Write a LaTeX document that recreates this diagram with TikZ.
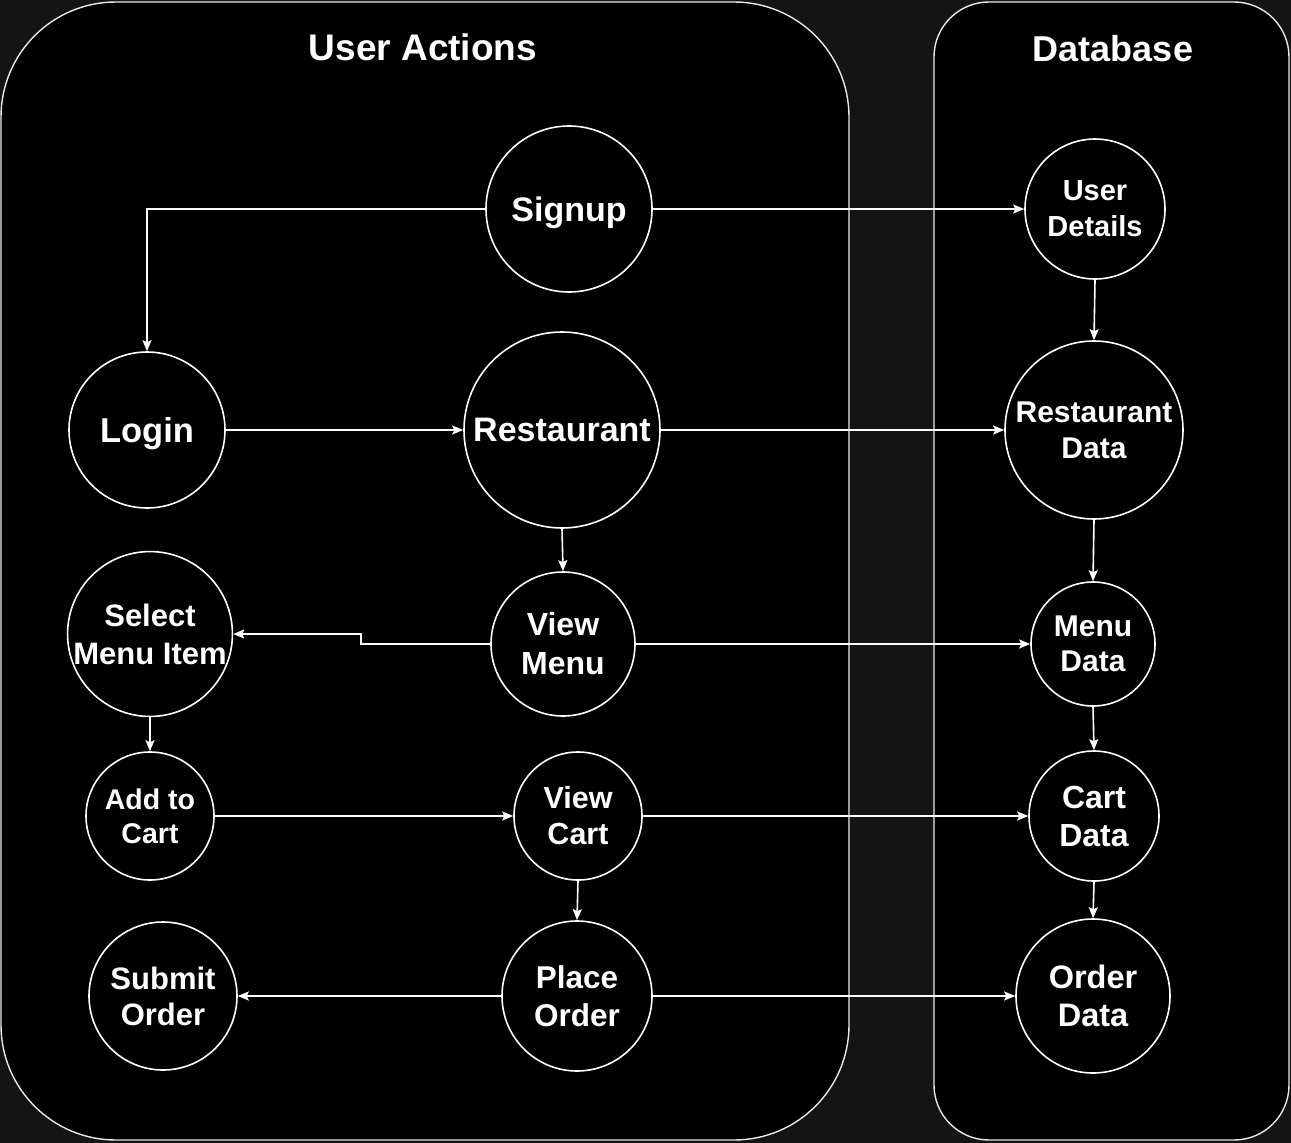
\documentclass[tikz,border=0pt]{standalone}
\usepackage{fontspec}
\setmainfont{Liberation Sans}
\usetikzlibrary{arrows.meta}
\definecolor{bgc}{HTML}{141414}
\definecolor{edgec}{HTML}{E8E8EE}
\newcommand{\fsz}[2]{\bfseries\fontsize{#1}{#2}\selectfont}
\tikzset{
  bub/.style={circle,draw=white,line width=1.6pt,fill=black,text=white,inner sep=0pt,align=center,minimum size=#1},
  arr/.style={draw=white,line width=1.6pt,-{Stealth[length=11pt,width=9pt,inset=2pt]}},
  pane/.style={draw=edgec,line width=1.4pt,fill=black},
  ttl/.style={text=white,font=\bfseries\fontsize{37}{44}\selectfont}
}
\begin{document}
\begin{tikzpicture}[x=1pt,y=-1pt]
\fill[bgc] (0,0) rectangle (1291,1143);
\useasboundingbox (0,0) rectangle (1291,1143);
\draw[pane,rounded corners=115pt] (1,2) rectangle (849,1140);
\draw[pane,rounded corners=55pt] (934,2) rectangle (1289,1140);
\node[ttl] (t1) at (423,47) {User Actions};
\node[ttl,font=\bfseries\fontsize{36}{44}\selectfont] (t2) at (1113,49) {Database};

\node[bub=166pt,font=\fsz{34}{40},text depth=0pt] (signup) at (569,209) {Signup};
\node[bub=140pt,font=\fsz{29}{36}] (userdet) at (1095,209) {User\\Details};
\node[bub=156pt,font=\fsz{34.5}{40},text depth=0pt] (login) at (147,430) {Login};
\node[bub=196pt,font=\fsz{34}{40}] (rest) at (562,430) {Restaurant};
\node[bub=178pt,font=\fsz{30}{36}] (restdata) at (1094,430) {Restaurant\\Data};
\node[bub=164pt,font=\fsz{31}{38}] (selmenu) at (150,634) {Select\\Menu Item};
\node[bub=144pt,font=\fsz{32}{39}] (viewmenu) at (563,644) {View\\Menu};
\node[bub=124pt,font=\fsz{30}{35}] (menudata) at (1093,644) {Menu\\Data};
\node[bub=128pt,font=\fsz{28.5}{34}] (addcart) at (150,816) {Add to\\Cart};
\node[bub=128pt,font=\fsz{30.5}{36}] (viewcart) at (578,816) {View\\Cart};
\node[bub=130pt,font=\fsz{32}{38}] (cartdata) at (1094,816) {Cart\\Data};
\node[bub=148pt,font=\fsz{31}{36}] (submit) at (163,996) {Submit\\Order};
\node[bub=150pt,font=\fsz{31.5}{38}] (placeorder) at (577,996) {Place\\Order};
\node[bub=154pt,font=\fsz{32.5}{38}] (orderdata) at (1093,996) {Order\\Data};

\draw[arr] (signup.west) -| (login.north);
\draw[arr] (signup.east) -- (userdet.west);
\draw[arr] (userdet.south) -- (restdata.north);
\draw[arr] (login.east) -- (rest.west);
\draw[arr] (rest.east) -- (restdata.west);
\draw[arr] (rest.south) -- (viewmenu.north);
\draw[arr] (restdata.south) -- (menudata.north);
\draw[arr] (viewmenu.west) -- ++(-129,0) |- (selmenu.east);
\draw[arr] (viewmenu.east) -- (menudata.west);
\draw[arr] (menudata.south) -- (cartdata.north);
\draw[arr] (selmenu.south) -- (addcart.north);
\draw[arr] (addcart.east) -- (viewcart.west);
\draw[arr] (viewcart.east) -- (cartdata.west);
\draw[arr] (viewcart.south) -- (placeorder.north);
\draw[arr] (cartdata.south) -- (orderdata.north);
\draw[arr] (placeorder.west) -- (submit.east);
\draw[arr] (placeorder.east) -- (orderdata.west);
\end{tikzpicture}
\end{document}
